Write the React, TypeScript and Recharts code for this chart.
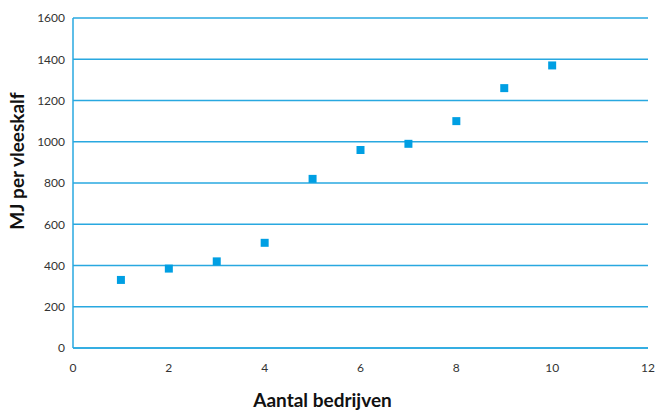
import React from 'react';
import { ScatterChart, Scatter, XAxis, YAxis, ZAxis, CartesianGrid } from 'recharts';

const bedrijven = [1, 2, 3, 4, 5, 6, 7, 8, 9, 10];
const mjPerKalf = [330, 385, 420, 510, 820, 960, 990, 1100, 1260, 1370];
const xTicks = [0, 2, 4, 6, 8, 10, 12];
const yTicks = [0, 200, 400, 600, 800, 1000, 1200, 1400, 1600];

const data = bedrijven.map((x, i) => ({ x, y: mjPerKalf[i] }));

const BLUE = '#29a8e0';
const font = 'Lato, "Open Sans", sans-serif';

const App: React.FC = () => {
    return (
        <div style={{ position: 'absolute', left: 0, top: 0, background: '#fff' }}>
            <ScatterChart
                width={655}
                height={411}
                margin={{ top: 18, right: 7, left: 23, bottom: 33 }}
                style={{ fontFamily: font }}
            >
                <CartesianGrid horizontal vertical={false} stroke={BLUE} strokeWidth={1.5} />
                <XAxis
                    type="number"
                    dataKey="x"
                    domain={[0, 12]}
                    ticks={xTicks}
                    height={30}
                    tickLine={false}
                    tickMargin={9}
                    axisLine={{ stroke: BLUE, strokeWidth: 1.5 }}
                    tick={{ fill: '#333', fontSize: 12 }}
                    label={{
                        value: 'Aantal bedrijven',
                        position: 'insideBottom',
                        offset: -29,
                        dx: -38,
                        style: { fontSize: 19, fontWeight: 700, fill: '#111' },
                    }}
                />
                <YAxis
                    type="number"
                    dataKey="y"
                    domain={[0, 1600]}
                    ticks={yTicks}
                    width={50}
                    tickLine={false}
                    axisLine={{ stroke: BLUE, strokeWidth: 1.5 }}
                    tick={{ fill: '#333', fontSize: 12 }}
                    label={{
                        value: 'MJ per vleeskalf',
                        angle: -90,
                        position: 'insideLeft',
                        offset: -6,
                        dy: -22,
                        style: { fontSize: 19, fontWeight: 700, fill: '#111', textAnchor: 'middle' },
                    }}
                />
                <ZAxis range={[64, 64]} />
                <Scatter data={data} fill="#009fe3" shape="square" isAnimationActive={false} />
            </ScatterChart>
        </div>
    );
};

export default App;
